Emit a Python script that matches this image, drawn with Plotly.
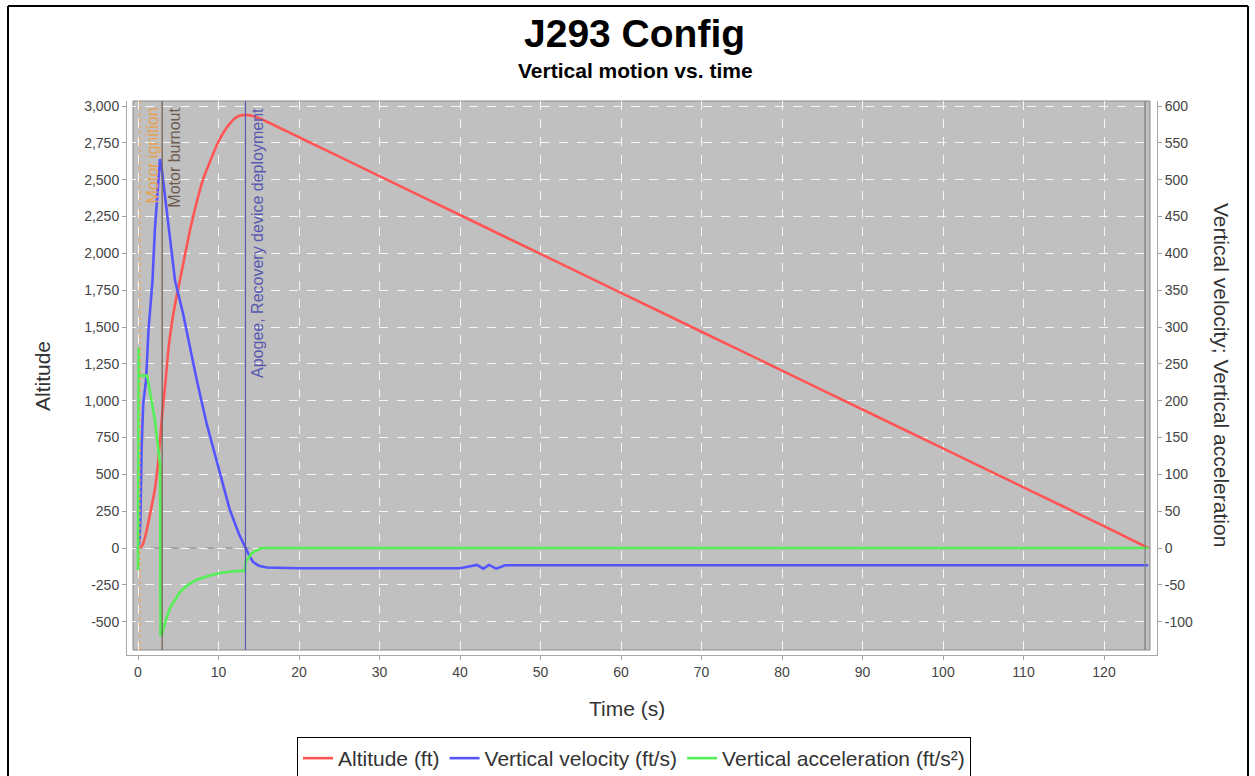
import plotly.graph_objects as go

# ---------------- data ----------------
alt_t = [0, 0.3, 0.6, 1.0, 1.5, 2.1, 2.5, 3.0, 3.4, 3.8, 4.3, 4.8, 5.2, 6.5, 8.1,
         9.8, 10.5, 11.4, 12.0, 12.7, 13.3, 14.0, 14.8, 15.5, 20, 30, 40, 50, 60, 70, 80, 90, 100,
         110, 120, 125.5]
alt_ft = [0, 5, 25, 100, 230, 400, 580, 900, 1120, 1360, 1560, 1710, 1815, 2167, 2505,
          2735, 2810, 2880, 2915, 2935, 2940, 2935, 2922, 2907, 2788, 2524, 2260, 1996, 1732, 1468, 1204, 940, 676,
          412, 148, 0]

vel_t = [0, 0.2, 0.3, 0.35, 0.45, 0.65, 1.0, 1.3, 1.8, 2.1, 2.4, 2.73, 2.95, 3.35,
         4.0, 4.6, 5.6, 6.5, 7.3, 8.5, 9.9, 11.4, 12.5, 13.3, 13.8, 14.3, 15.0, 16.0,
         20, 30, 40, 42.1, 42.9, 43.6, 44.5, 45.6, 50, 60, 70, 80, 90, 100, 110, 120, 125.5]
vel_fps = [0, 10, 40, 110, 137, 196, 228, 295, 363, 433, 480, 528, 515, 478,
           415, 363, 318, 270, 228, 170, 112, 52, 20, 0, -10, -19, -24, -26.5,
           -27.5, -27.5, -27.5, -23, -28, -23, -28, -23.5, -23.5, -23.5, -23.5, -23.5, -23.5, -23.5, -23.5, -23.5, -23.5]

acc_t = [0, 0.02, 0.08, 0.12, 0.5, 1.1, 1.25, 1.7, 2.1, 2.5, 2.75, 2.8, 2.95, 3.4,
         4.0, 5.2, 6.2, 7.3, 8.7, 10.2, 11.5, 12.9, 13.3, 13.35, 14.0, 14.4, 15.4,
         20, 40, 60, 80, 100, 120, 125.5]
acc_fps2 = [-30, 272, 272, 234, 234, 234, 227, 200, 173, 137, 112, -118, -118, -100,
            -81, -60, -50, -43, -38, -34, -32, -31, -31, -19, -9, -5, 0,
            0, 0, 0, 0, 0, 0, 0]

# flight events
event_t = [0.25, 3.0, 13.35, 125.1]
event_labels = ["Motor ignition", "Motor burnout", "Apogee, Recovery device deployment", ""]
event_colors = ["#e8a050", "#6e5c50", "#5858b0", "#7a7a7a"]

x_ticks = list(range(0, 121, 10))
left_ticks = [-500, -250, 0, 250, 500, 750, 1000, 1250, 1500, 1750, 2000, 2250, 2500, 2750, 3000]
left_labels = ["-500", "-250", "0", "250", "500", "750", "1,000", "1,250", "1,500", "1,750",
               "2,000", "2,250", "2,500", "2,750", "3,000"]
right_ticks = [-100, -50, 0, 50, 100, 150, 200, 250, 300, 350, 400, 450, 500, 550, 600]
right_labels = [str(v) for v in right_ticks]

# ---------------- geometry (pixels) ----------------
W, H = 1255, 776
DL, DR, DT, DB = 127, 1157, 101, 655      # domain box (axis lines)
PL, PR, PT, PB = 133, 1150, 101, 650      # grey plot area
X0PX, XPX = 138, 8.05                     # t=0 pixel, px per second
Y0PX, YPX = 548, 442 / 3000               # alt=0 pixel, px per ft


def px_x(p):
    return (p - DL) / (DR - DL)


def px_y(p):
    return (DB - p) / (DB - DT)


xr = [(DL - X0PX) / XPX, (DR - X0PX) / XPX]
yr = [-(DB - Y0PX) / YPX, (Y0PX - DT) / YPX]
yr2 = [yr[0] / 5, yr[1] / 5]

FONT = "Liberation Sans, Arial, sans-serif"

fig = go.Figure()
fig.add_trace(go.Scatter(x=alt_t, y=alt_ft, mode="lines", name="Altitude (ft)",
                         line=dict(color="rgb(255,85,85)", width=2.6, shape="spline", smoothing=0.5),
                         yaxis="y"))
fig.add_trace(go.Scatter(x=vel_t, y=vel_fps, mode="lines", name="Vertical velocity (ft/s)",
                         line=dict(color="rgb(85,85,255)", width=2.6), yaxis="y2"))
fig.add_trace(go.Scatter(x=acc_t, y=acc_fps2, mode="lines", name="Vertical acceleration (ft/s²)",
                         line=dict(color="rgb(85,240,85)", width=2.6), yaxis="y2"))

shapes = []
shapes.append(dict(type="rect", xref="paper", yref="paper", layer="below",
                   x0=px_x(PL), x1=px_x(PR), y0=px_y(PB), y1=px_y(PT),
                   fillcolor="#c0c0c0", line=dict(color="#8a8a8a", width=1)))
shapes.append(dict(type="line", xref="paper", yref="y", layer="below",
                   x0=px_x(PL), x1=px_x(PR), y0=0, y1=0,
                   line=dict(color="#858585", width=1, dash="dash")))
for t, c in zip(event_t, event_colors):
    shapes.append(dict(type="line", xref="x", yref="paper", layer="above",
                       x0=t, x1=t, y0=px_y(PB), y1=px_y(PT),
                       line=dict(color=c, width=1.2,
                                 dash="dot" if c == "#e8a050" else "solid")))
# outer black frame
shapes.append(dict(type="line", xref="paper", yref="paper", x0=px_x(8), x1=px_x(1248),
                   y0=px_y(6), y1=px_y(6), line=dict(color="black", width=2)))
shapes.append(dict(type="line", xref="paper", yref="paper", x0=px_x(8), x1=px_x(8),
                   y0=px_y(6), y1=px_y(790), line=dict(color="black", width=2)))
shapes.append(dict(type="line", xref="paper", yref="paper", x0=px_x(1248), x1=px_x(1248),
                   y0=px_y(6), y1=px_y(790), line=dict(color="black", width=2)))


def ann(text, xp, yp, size, color="#333", angle=0, bold=False):
    return dict(text=f"<b>{text}</b>" if bold else text, x=px_x(xp), y=px_y(yp),
                xref="paper", yref="paper", xanchor="center", yanchor="middle",
                textangle=angle, showarrow=False,
                font=dict(family=FONT, size=size, color=color))


annotations = [
    ann("J293 Config", 634, 33, 39, "black", bold=True),
    ann("Vertical motion vs. time", 635, 70, 21, "black", bold=True),
    ann("Altitude", 42, 376, 21, angle=-90),
    ann("Vertical velocity; Vertical acceleration", 1222, 375, 21, angle=90),
    ann("Time (s)", 627, 708, 21),
]
for t, lab, c in zip(event_t, event_labels, event_colors):
    if lab:
        annotations.append(dict(text=lab, x=t, y=px_y(PT + 5), xref="x", yref="paper",
                                xanchor="left", yanchor="top", xshift=1, textangle=-90,
                                showarrow=False, font=dict(family=FONT, size=16, color=c)))

axis_common = dict(showline=True, linecolor="#a8a8a8", linewidth=1, ticks="outside",
                   ticklen=4, tickcolor="#a0a0a0", automargin=False,
                   tickfont=dict(family=FONT, size=14, color="#444"), zeroline=False)

fig.update_layout(
    width=W, height=H, autosize=False,
    margin=dict(l=DL, r=W - DR, t=DT, b=H - DB, pad=0),
    paper_bgcolor="white", plot_bgcolor="rgba(0,0,0,0)",
    showlegend=True,
    legend=dict(orientation="h", xref="container", yref="container",
                x=634 / W, xanchor="center", y=1 - 737 / H, yanchor="top",
                bordercolor="black", borderwidth=1, bgcolor="white",
                font=dict(family=FONT, size=21, color="#333"), itemwidth=30,
                tracegroupgap=0),
    xaxis=dict(range=xr, tickvals=x_ticks, showgrid=True, gridcolor="rgba(255,255,255,0.85)",
               griddash="dash", gridwidth=1, **axis_common),
    yaxis=dict(range=yr, tickvals=left_ticks, ticktext=left_labels, showgrid=True,
               gridcolor="rgba(255,255,255,0.85)", griddash="dash", gridwidth=1, **axis_common),
    yaxis2=dict(range=yr2, tickvals=right_ticks, ticktext=right_labels, overlaying="y",
                side="right", showgrid=False, **axis_common),
    shapes=shapes, annotations=annotations,
)

fig.write_html("out.html", config={"displayModeBar": False},
               post_script="document.body.style.margin='0';document.body.style.overflow='hidden';")
